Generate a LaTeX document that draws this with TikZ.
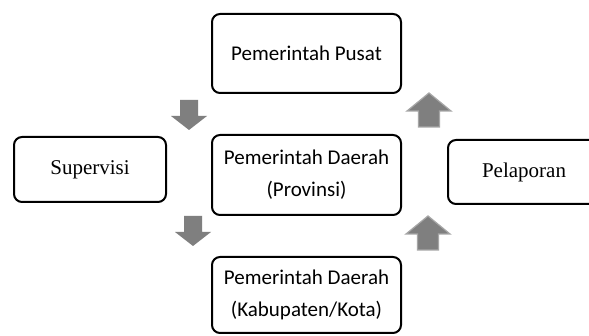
\documentclass[tikz,border=0pt]{standalone}
\usepackage{fontspec}
\setmainfont{Liberation Serif}
\newfontfamily\calibri{Carlito}
\definecolor{arrowgray}{HTML}{7F7F7F}
\definecolor{arrowedge}{HTML}{A6A6A6}
\begin{document}
\begin{tikzpicture}[x=1pt,y=-1pt,
  box/.style={draw=black, line width=2pt, rounded corners=8pt, fill=white, inner sep=0pt, align=center},
  sansbox/.style={box, font=\calibri\fontsize{21}{32}\selectfont},
  serifbox/.style={box, font=\fontsize{21}{25}\selectfont},
  downarr/.pic={\fill[arrowgray] (-9,0) -- (9,0) -- (9,16) -- (18,16) -- (0,30) -- (-18,16) -- (-9,16) -- cycle;},
  uparr/.pic={\draw[fill=arrowgray, draw=arrowedge, line width=1.2pt] (-10.5,34) -- (10.5,34) -- (10.5,18) -- (22,18) -- (0,0) -- (-22,18) -- (-10.5,18) -- cycle;}]
\useasboundingbox (0,0) rectangle (589,336);
\clip (0,0) rectangle (589,336);
\fill[white] (0,0) rectangle (589,336);

\node[sansbox, minimum width=189pt, minimum height=79pt] (pusat) at (306.5,53.5) {Pemerintah Pusat};
\node[sansbox, minimum width=189pt, minimum height=80pt] (prov) at (306.5,175) {Pemerintah Daerah\\(Provinsi)};
\node[sansbox, minimum width=189pt, minimum height=76pt] (kab) at (306.5,295) {Pemerintah Daerah\\(Kabupaten/Kota)};
\node[serifbox, minimum width=152pt, minimum height=65pt] (sup) at (90,169.5) {Supervisi};
\node[serifbox, minimum width=152pt, minimum height=64pt] (lap) at (524,172) {Pelaporan};

\pic at (189,100) {downarr};
\pic at (193,216) {downarr};
\pic at (429,93) {uparr};
\pic at (428,216) {uparr};
\end{tikzpicture}
\end{document}
